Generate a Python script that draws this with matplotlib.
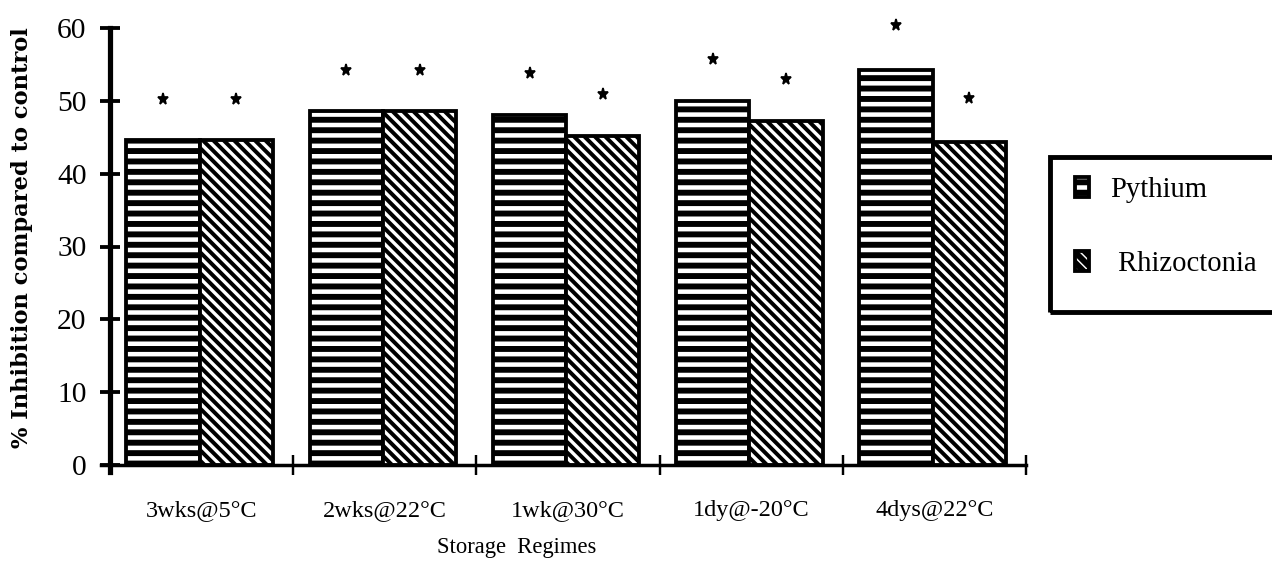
import numpy as np
import matplotlib

matplotlib.use('Agg')
import matplotlib.pyplot as plt
from matplotlib.patches import Rectangle

# data
regimes = ['3wks@5°C', '2wks@22°C', '1wk@30°C', '1dy@-20°C', '4dys@22°C']
pythium = [44.6, 48.6, 48.0, 50.0, 54.2]
rhizoctonia = [44.6, 48.6, 45.2, 47.2, 44.4]
star_pythium = [50.2, 54.3, 53.8, 55.8, 60.4]
star_rhizoctonia = [50.2, 54.3, 51.0, 53.0, 50.4]
yticks = [0, 10, 20, 30, 40, 50, 60]

DPI = 125
BS = chr(92)  # backslash, for the diagonal hatch
plt.rcParams['font.family'] = ['Liberation Serif', 'DejaVu Serif']
plt.rcParams['hatch.linewidth'] = 3.4
plt.rcParams['hatch.color'] = 'black'

fig = plt.figure(figsize=(1272 / DPI, 563 / DPI), dpi=DPI)
ax = fig.add_axes([110 / 1272, 1 - 465 / 563, (1026 - 110) / 1272, (465 - 28) / 563])

x = np.arange(len(regimes))
w = 0.40
b1 = ax.bar(x - 0.21, pythium, w, color='white', edgecolor='black',
            linewidth=2.2, hatch='--', label='Pythium')
b2 = ax.bar(x + 0.19, rhizoctonia, w, color='white', edgecolor='black',
            linewidth=2.2, hatch=BS * 4, label=' Rhizoctonia')
# thinner diagonal stripes (per-patch hatch width, mpl >= 3.10)
for p in b2.patches:
    if hasattr(p, 'set_hatch_linewidth'):
        p.set_hatch_linewidth(2.3)

ax.plot(x - 0.21, star_pythium, ls='none', marker='*', ms=6.5, color='black', clip_on=False)
ax.plot(x + 0.19, star_rhizoctonia, ls='none', marker='*', ms=6.5, color='black', clip_on=False)

ax.set_xlim(-0.5, 4.5)
ax.set_ylim(0, 60)
ax.set_yticks(yticks)
ax.set_yticklabels([str(v) for v in yticks], fontsize=17)
ax.tick_params(axis='y', direction='inout', length=11, width=2.2, pad=8)

ax.set_xticks(x)
ax.set_xticklabels(regimes, fontsize=14)
ax.tick_params(axis='x', which='major', length=0, pad=20)
ax.set_xticks(x + 0.5, minor=True)
ax.tick_params(axis='x', which='minor', direction='inout', length=12, width=1.4)

for s in ['top', 'right']:
    ax.spines[s].set_visible(False)
ax.spines['left'].set_linewidth(3.0)
ax.spines['left'].set_bounds(-1.0, 60)
ax.spines['bottom'].set_linewidth(2.0)
ax.spines['bottom'].set_bounds(-0.55, 4.5)

fig.text(22 / 1272, 1 - 238 / 563, '% Inhibition compared to control', rotation=90,
         ha='center', va='center', fontsize=13, fontweight='bold', family='DejaVu Serif')
fig.text(517 / 1272, 1 - 548 / 563, 'Storage  Regimes', ha='center', va='center', fontsize=13)

# legend box, open on the right like the scan
fig.add_artist(Rectangle((1050 / 1272, 1 - 312 / 563), 0.3, 155 / 563,
                         transform=fig.transFigure, fill=False, edgecolor='black',
                         linewidth=2.8, clip_on=False))
leg = fig.legend(handles=[b1, b2], loc='center left',
                 bbox_to_anchor=(1049 / 1272, 1 - 227 / 563), frameon=False,
                 fontsize=16.5, handlelength=0.5, handleheight=0.7,
                 handletextpad=0.75, labelspacing=1.7)

fig.savefig('out.png', dpi=DPI)
